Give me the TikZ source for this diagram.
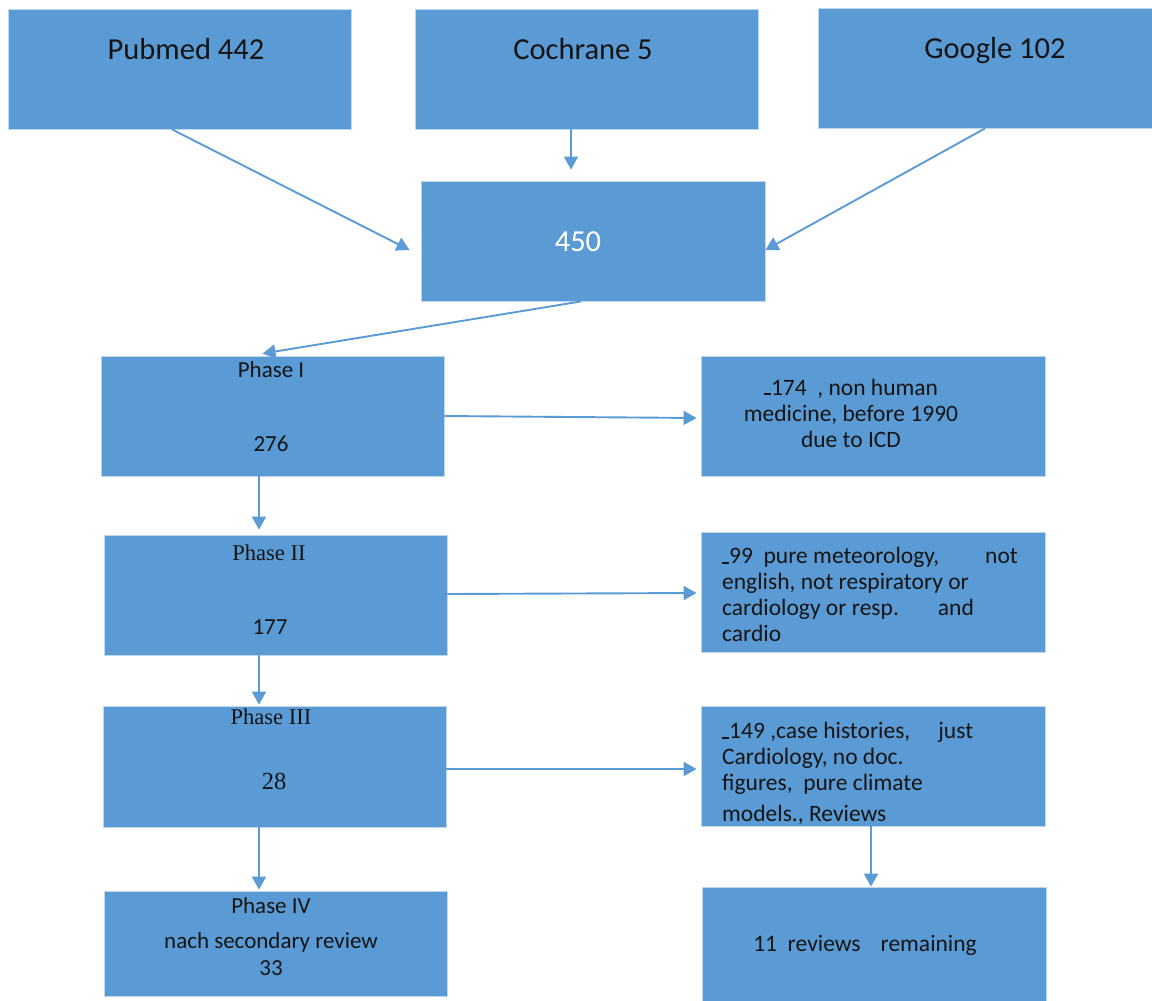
\documentclass[tikz,border=0pt]{standalone}
\usepackage{fontspec}
\setmainfont{Carlito}
\newfontfamily\tnr{Liberation Serif}
\usetikzlibrary{arrows.meta}
\definecolor{boxblue}{HTML}{5B9BD5}
\definecolor{edgeblue}{HTML}{BDD7EE}
\definecolor{txt}{HTML}{141414}
\newcommand{\lowdash}{\rule{7pt}{1.8pt}}
\tikzset{
  box/.style={draw=edgeblue, line width=0.8pt, fill=boxblue, inner sep=0pt, minimum width=343pt, minimum height=120pt},
  lbl/.style={inner sep=0pt, text=txt, font=\fontsize{23}{26}\selectfont},
  rlbl/.style={inner sep=0pt, text=txt, font=\fontsize{23.5}{26}\selectfont},
  biglbl/.style={inner sep=0pt, text=txt, font=\fontsize{30.5}{34}\selectfont},
  conn/.style={draw=boxblue, line width=1.9pt, -{Triangle[length=13pt,width=14pt]}}
}
\begin{document}
\begin{tikzpicture}[x=1pt,y=-1pt]
\useasboundingbox (0,0) rectangle (1152,1001);
% top row
\node[box] (pub) at (179.5,69) {};
\node[box] (coch) at (586.5,69) {};
\node[box, minimum width=334pt] (goo) at (985,68) {};
\node[biglbl] (tpub) at (186,49) {Pubmed 442};
\node[biglbl] (tcoch) at (583,49) {Cochrane 5};
\node[biglbl] (tgoo) at (995,51) {Google 102};
% merged
\node[box, minimum width=344pt] (all) at (593,241) {};
\node[biglbl, text=white] (tall) at (578,242) {450};
% left column
\node[box] (ph1) at (272.5,416) {};
\node[lbl] (tph1a) at (271,370) {Phase I};
\node[lbl] (tph1b) at (271,444) {276};
\node[box] (ph2) at (275.5,595) {};
\node[lbl, font=\tnr\fontsize{22.5}{26}\selectfont] (tph2a) at (269,553) {Phase II};
\node[lbl] (tph2b) at (270,627) {177};
\node[box, minimum height=121pt] (ph3) at (274.5,766.5) {};
\node[lbl, font=\tnr\fontsize{22.5}{26}\selectfont] (tph3a) at (271,717) {Phase III};
\node[lbl, font=\tnr\fontsize{24.5}{26}\selectfont] (tph3b) at (274,781) {28};
\node[box, minimum height=105pt] (ph4) at (275.5,943.5) {};
\node[lbl] (tph4a) at (271,906) {Phase IV};
\node[lbl] (tph4b) at (271,942) {nach secondary review};
\node[lbl] (tph4c) at (271,968) {33};
% right column
\node[box, minimum width=344pt] (r1) at (873,416) {};
\node[rlbl, align=center] (tr1) at (851,413) {\lowdash174\ \ , non human\\medicine, before 1990\\due to ICD};
\node[box, minimum width=344pt] (r2) at (873,592) {};
\node[rlbl, align=left, anchor=north west] (tr2) at (722,547) {\lowdash99\ \ pure meteorology,\hspace{46pt}not\\english, not respiratory or\\cardiology or resp.\hspace{39pt}and\\cardio};
\node[box, minimum width=344pt] (r3) at (873,766) {};
\node[rlbl, align=left, anchor=north west] (tr3) at (722,722) {\lowdash149\ ,case histories,\hspace{28pt}just\\Cardiology, no doc.\\figures,\ \ pure climate\\[5pt]models., Reviews};
\node[box, minimum width=344pt, minimum height=114pt] (r4) at (874,944) {};
\node[rlbl] (tr4) at (865,945) {11\ \ reviews\hspace{20pt}remaining};
% connectors
\draw[conn] ([xshift=-7.5pt]pub.south) -- ([xshift=-11pt,yshift=-9pt]all.west);
\draw[conn] ([xshift=-15.5pt]coch.south) -- ([xshift=-22pt,yshift=11pt]all.north);
\draw[conn] (goo.south) -- ([yshift=-9pt]all.east);
\draw[conn] ([xshift=-12pt]all.south) -- ([xshift=-10pt,yshift=2pt]ph1.north);
\draw[conn] (ph1.east) -- ([xshift=-4pt,yshift=-2pt]r1.west);
\draw[conn] ([xshift=-13.5pt]ph1.south) -- ([xshift=-16.5pt,yshift=5pt]ph2.north);
\draw[conn] ([yshift=1pt]ph2.east) -- ([xshift=-4pt,yshift=-1pt]r2.west);
\draw[conn] ([xshift=-16.5pt]ph2.south) -- ([xshift=-15.5pt,yshift=1pt]ph3.north);
\draw[conn] ([yshift=-2.5pt]ph3.east) -- ([xshift=-4pt,yshift=-3pt]r3.west);
\draw[conn] ([xshift=-15.5pt]ph3.south) -- ([xshift=-16.5pt,yshift=1pt]ph4.north);
\draw[conn] ([xshift=-2pt]r3.south) -- ([xshift=-3pt]r4.north);
\end{tikzpicture}
\end{document}
